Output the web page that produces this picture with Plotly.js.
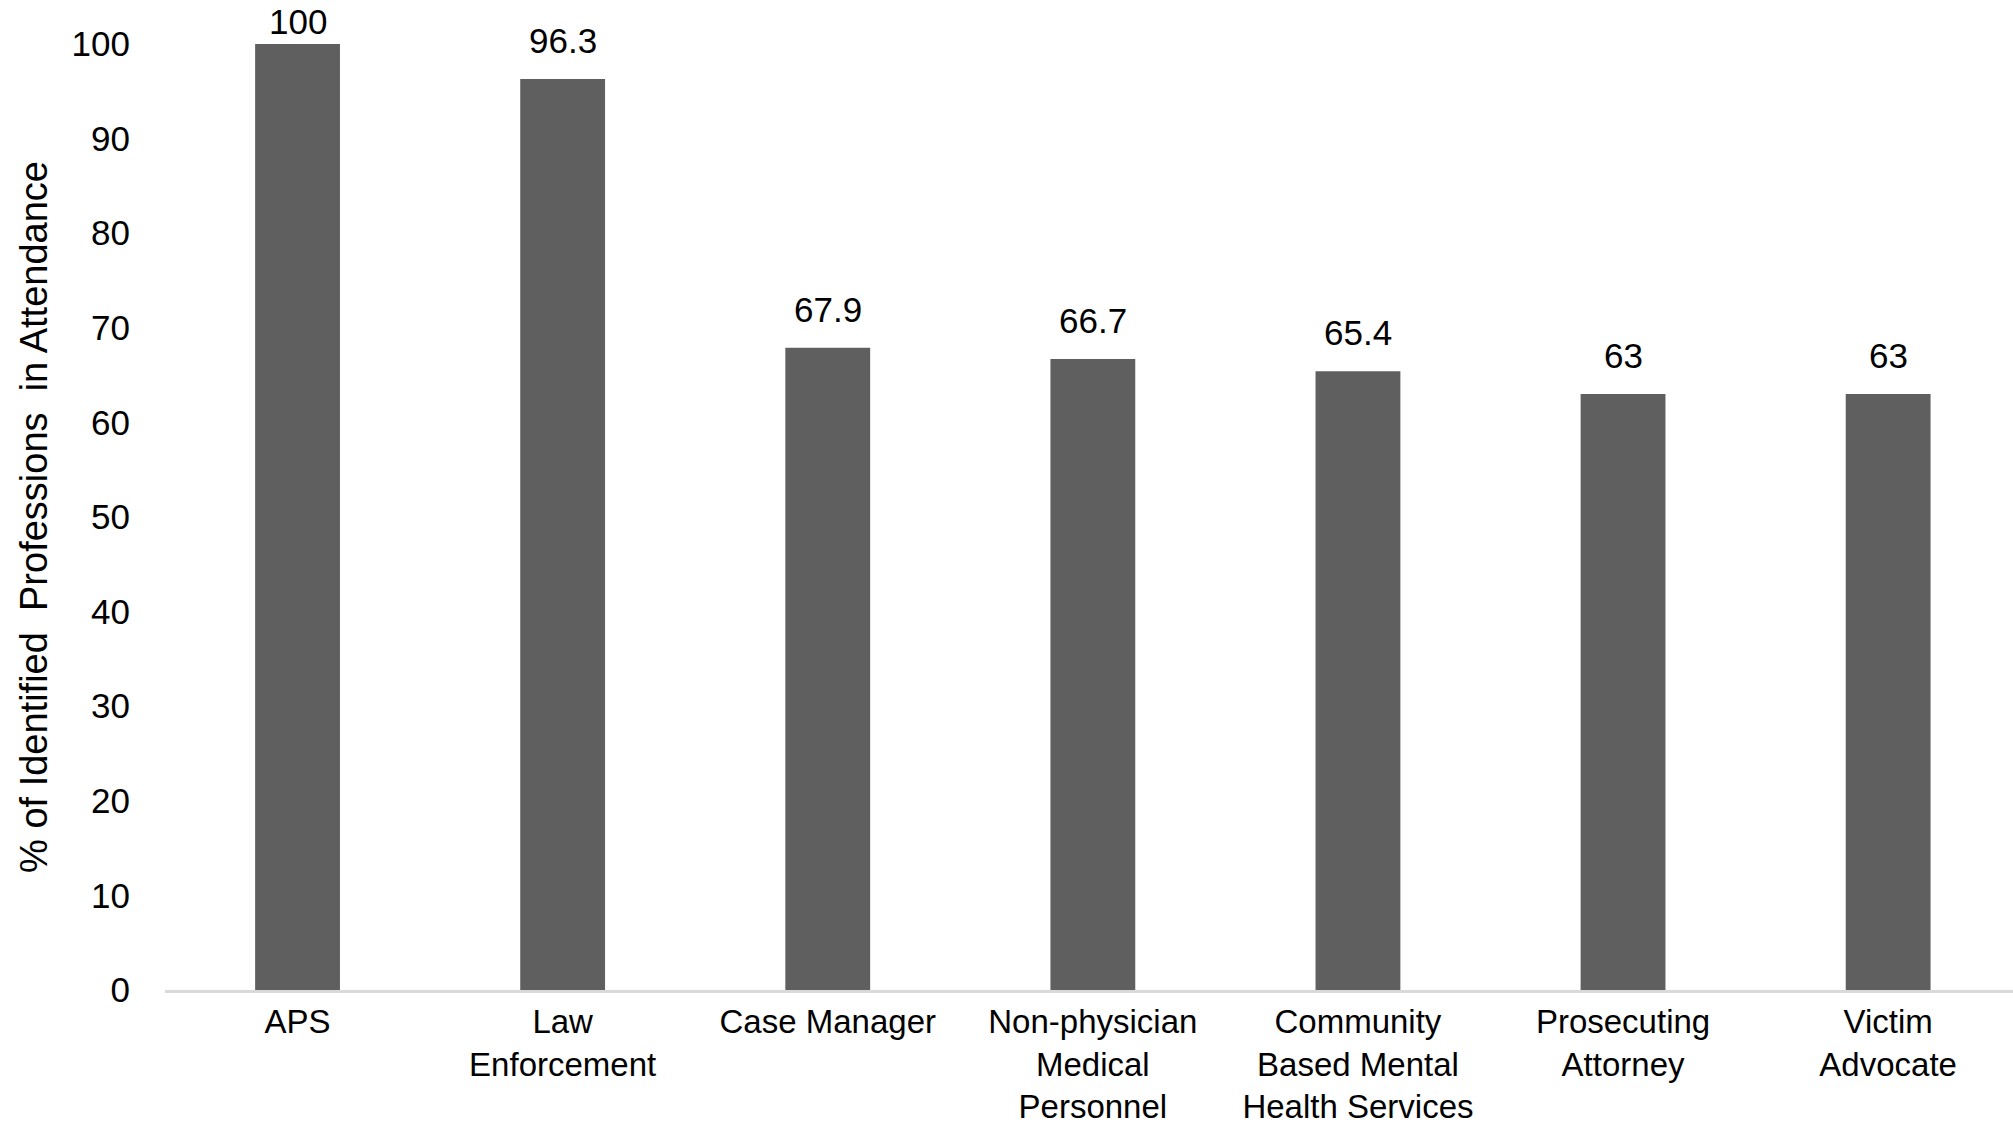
<!DOCTYPE html>
<html>
<head>
<meta charset="utf-8">
<script src="https://cdn.plot.ly/plotly-3.0.1.min.js"></script>
<style>html,body{margin:0;padding:0;background:#fff;}#chart{width:2013px;height:1131px;}</style>
</head>
<body>
<div id="chart"></div>
<script>
const categories = ["APS", "Law<br>Enforcement", "Case Manager", "Non-physician<br>Medical<br>Personnel", "Community<br>Based Mental<br>Health Services", "Prosecuting<br>Attorney", "Victim<br>Advocate"];
const values = [100, 96.3, 67.9, 66.7, 65.4, 63, 63];
const valueLabels = ["100", "96.3", "67.9", "66.7", "65.4", "63", "63"];
const yTicks = [0, 10, 20, 30, 40, 50, 60, 70, 80, 90, 100];

const W = 2013, H = 1131;
const mT = 44, mB = 141, mL = 165, mR = 0;
const plotH = H - mT - mB;
const font = "Liberation Sans, Arial, sans-serif";

const annotations = values.map((v, i) => {
  const px = mT + plotH * (1 - v / 100);
  const center = Math.max(px - 38.5, 21);
  return {
    x: i, y: v, xref: 'x', yref: 'y',
    text: valueLabels[i], showarrow: false,
    yanchor: 'middle', xanchor: 'center',
    yshift: px - center,
    font: {family: font, size: 35, color: '#000'}
  };
});

const data = [{
  type: 'bar',
  x: categories,
  y: values,
  marker: {color: '#5f5f5f', line: {width: 0}},
  hoverinfo: 'none'
}];

const layout = {
  width: W, height: H,
  margin: {t: mT, b: mB, l: mL, r: mR, pad: 0},
  paper_bgcolor: '#fff', plot_bgcolor: '#fff',
  bargap: 0.68,
  showlegend: false,
  font: {family: font, size: 32, color: '#000'},
  xaxis: {
    type: 'category',
    range: [-0.5, 6.471],
    showgrid: false, zeroline: false,
    showline: true, linecolor: '#d9d9d9', linewidth: 3,
    ticks: '', tickfont: {family: font, size: 33, color: '#000'},
    ticklabelstandoff: 0,
    fixedrange: true
  },
  yaxis: {
    range: [0, 100],
    tickvals: yTicks,
    ticktext: yTicks.map(String),
    showgrid: false, zeroline: false, showline: false,
    ticks: '', tickfont: {family: font, size: 35, color: '#000'},
    ticklabelstandoff: 34,
    title: {text: '% of Identified\u00a0 Professions\u00a0 in Attendance', font: {family: font, size: 38, color: '#000'}, standoff: 12},
    fixedrange: true
  },
  annotations: annotations
};

Plotly.newPlot('chart', data, layout, {staticPlot: true, displayModeBar: false});
</script>
</body>
</html>
